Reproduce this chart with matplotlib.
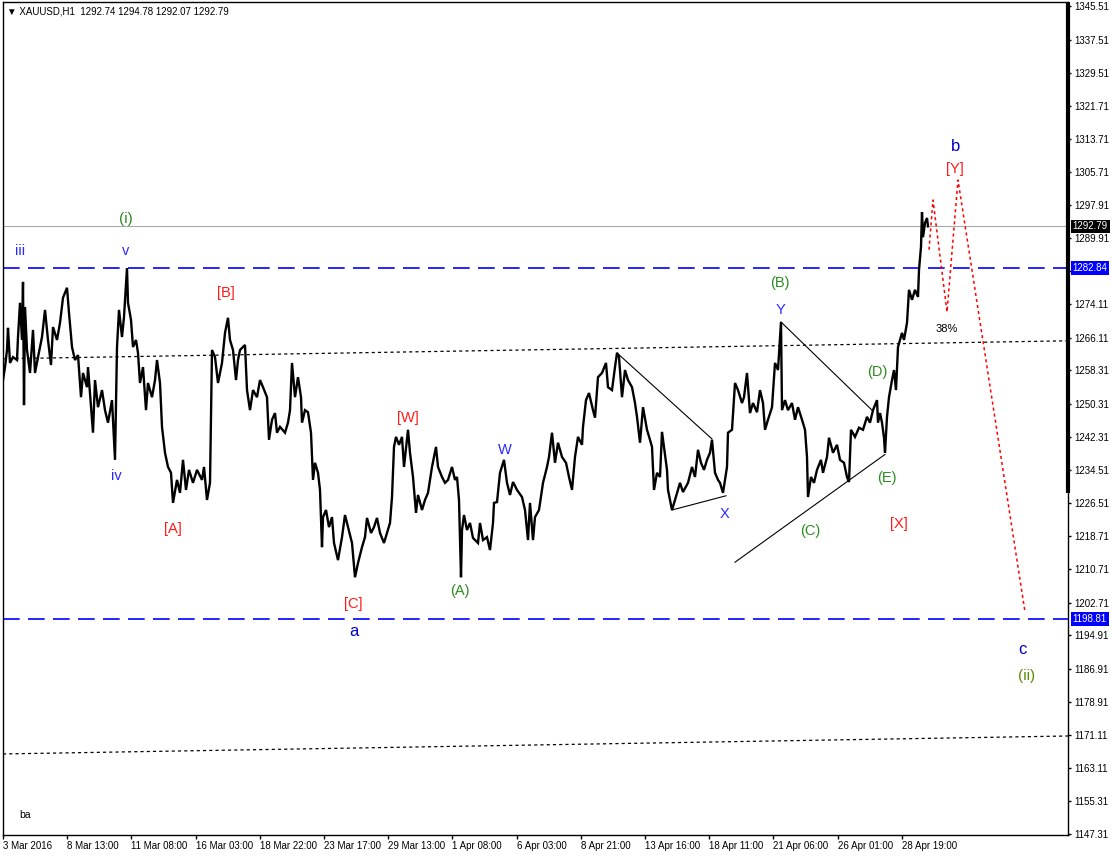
import matplotlib
matplotlib.use('Agg')
import matplotlib.pyplot as plt
from matplotlib.transforms import blended_transform_factory

plt.rcParams['font.family'] = ['Liberation Sans', 'DejaVu Sans']

# ---------------- data ----------------
bars = [0, 2, 4, 5, 7, 10, 14, 15, 17, 19, 20, 21, 22, 24, 27, 30, 32, 35, 39, 42, 45, 48, 50, 54, 57, 60, 64, 66, 69, 72, 75, 78, 80, 84, 85, 88, 90, 92, 95, 99, 102, 105, 109, 110, 112, 114, 116, 119, 121, 124, 125, 128, 130, 133, 135, 137, 140, 143, 145, 149, 152, 154, 157, 159, 162, 165, 168, 170, 174, 177, 180, 183, 186, 190, 194, 199, 201, 204, 207, 209, 212, 215, 219, 222, 225, 227, 230, 233, 235,
        237, 242, 244, 247, 250, 254, 257, 260, 264, 266, 269, 272, 274, 277, 282, 285, 287, 289, 292, 295, 298, 299, 302, 305, 308, 310, 312, 315, 317, 319, 320, 323, 326, 329, 331, 335, 339, 342, 345, 349, 352, 355, 359, 362, 364, 368, 371, 374, 377, 381, 384, 387, 389, 391, 393, 396, 399, 401, 405, 407, 410, 413, 415, 419, 422, 425, 429, 433, 435, 439, 442, 445, 449, 452, 454, 456, 458, 459, 461, 464, 467, 470, 475,
        477, 480, 484, 487, 490, 491, 494, 497, 501, 504, 507, 510, 514, 519, 522, 525, 527, 530, 532, 536, 540, 544, 546, 549, 552, 555, 559, 563, 566, 569, 572, 575, 579, 580, 583, 586, 590, 592, 595, 599, 603, 605, 609, 612, 614, 616, 619, 622, 625, 629, 632, 634, 637, 640, 644, 647, 649, 651, 654, 657, 659, 661, 664, 665, 669, 672, 677, 680, 685, 689, 692, 695, 698, 701, 704, 707, 709, 712, 715,
        717, 720, 724, 725, 729, 732, 735, 739, 741, 744, 747, 750, 754, 757, 760, 762, 765, 769, 772, 775, 778, 779, 782, 785, 789, 792, 795, 799, 802, 804, 805, 808, 811, 814, 818, 820, 824, 826, 830, 834, 837, 841, 844, 846, 848, 852, 856, 860, 864, 867, 870, 874, 875, 877, 879, 881, 882, 884, 886, 889, 891, 893, 895, 899, 901, 904, 906, 909, 912, 915, 916, 918, 919, 920, 922, 924, 925]
prices = [1256.0, 1259.1, 1263.2, 1268.5, 1260.1, 1261.5, 1260.8, 1266.3, 1274.5, 1265.6, 1279.5, 1250.0, 1273.5, 1263.2, 1257.7, 1268.0, 1257.7, 1261.5, 1266.3, 1272.8, 1265.6, 1259.6, 1268.7, 1265.6, 1269.7, 1275.7, 1278.1, 1272.1, 1263.9, 1260.8, 1262.0, 1251.9, 1257.7, 1254.3, 1259.1, 1249.5, 1243.4, 1256.0, 1249.5, 1253.6, 1248.8, 1245.8, 1251.2, 1246.5, 1236.9, 1263.9, 1272.8, 1266.3, 1271.1, 1282.8, 1274.5, 1270.4, 1263.9, 1265.6, 1262.5, 1255.3, 1259.1, 1248.8, 1255.3, 1251.9, 1256.0, 1260.8, 1255.3, 1244.8, 1238.6, 1235.2, 1233.8, 1226.6, 1232.1, 1229.0, 1236.9, 1229.7, 1234.5, 1231.4, 1234.5, 1232.1, 1235.2, 1227.3, 1231.4, 1263.2, 1261.5, 1255.3, 1260.1, 1267.3, 1270.9, 1265.6, 1263.2, 1256.0, 1260.8,
          1263.2, 1264.4, 1253.6, 1248.8, 1253.6, 1251.9, 1256.0, 1254.3, 1251.9, 1241.7, 1246.5, 1248.1, 1243.4, 1244.8, 1243.4, 1245.8, 1248.8, 1260.1, 1251.9, 1256.7, 1251.9, 1245.8, 1248.8, 1248.3, 1243.4, 1232.1, 1236.2, 1233.8, 1229.7, 1216.0, 1223.2, 1224.9, 1220.8, 1223.2, 1217.0, 1212.9, 1218.4, 1223.7, 1220.8, 1217.0, 1208.8, 1212.2, 1216.0, 1218.4, 1223.0, 1219.4, 1220.8, 1223.0, 1219.4, 1217.0, 1219.4, 1221.8, 1228.0, 1240.0, 1242.4, 1240.5, 1242.4, 1235.2, 1244.1, 1238.6, 1232.8, 1224.2, 1228.5, 1224.9, 1227.3, 1229.0, 1235.2, 1240.0, 1235.2, 1232.8, 1231.4, 1232.1, 1235.2, 1232.1, 1232.8, 1227.3, 1208.8, 1220.1, 1223.7, 1220.1, 1221.8, 1218.2, 1217.0,
          1221.8, 1217.7, 1218.4, 1215.3, 1221.8, 1226.6, 1226.8, 1233.8, 1236.9, 1231.4, 1228.5, 1231.6, 1229.7, 1228.0, 1224.9, 1217.7, 1226.6, 1217.7, 1223.2, 1224.9, 1231.4, 1235.2, 1237.6, 1243.4, 1236.2, 1241.0, 1237.6, 1236.2, 1232.8, 1229.7, 1237.6, 1242.4, 1240.5, 1244.8, 1251.2, 1252.9, 1248.8, 1247.0, 1256.7, 1257.7, 1260.1, 1254.3, 1253.6, 1259.1, 1262.5, 1261.5, 1251.9, 1258.4, 1256.0, 1254.3, 1250.5, 1247.2, 1241.0, 1249.5, 1244.1, 1241.7, 1240.0, 1229.7, 1233.8, 1232.8, 1243.6, 1240.0, 1234.5, 1229.7, 1224.9, 1227.3, 1231.4, 1229.2, 1231.4, 1235.2, 1232.8, 1239.3, 1236.2, 1234.5, 1236.9, 1238.6, 1241.7, 1233.8, 1232.1,
          1231.4, 1229.0, 1235.2, 1243.4, 1244.1, 1255.3, 1253.6, 1250.5, 1251.9, 1257.7, 1248.1, 1250.5, 1248.3, 1253.6, 1250.5, 1244.1, 1246.5, 1249.5, 1260.1, 1258.4, 1269.9, 1248.8, 1251.2, 1248.8, 1250.5, 1246.5, 1249.5, 1246.5, 1244.1, 1237.6, 1228.0, 1232.8, 1231.4, 1234.5, 1236.9, 1233.8, 1237.6, 1242.2, 1238.6, 1240.5, 1236.9, 1236.2, 1232.8, 1231.6, 1244.1, 1242.4, 1244.6, 1244.1, 1247.2, 1245.8, 1248.8, 1251.2, 1245.8, 1248.1, 1245.8, 1242.2, 1238.6, 1247.2, 1251.9, 1256.0, 1258.4, 1253.6, 1263.9, 1267.3, 1265.6, 1269.7, 1277.6, 1275.2, 1277.6, 1275.9, 1282.4, 1287.9, 1296.2, 1290.2, 1293.6, 1294.8, 1292.79]

# tick labels (time axis) and their bar positions
time_ticks = [0, 64, 128, 193, 257, 321, 385, 449, 514, 578, 642, 706, 770, 835, 899]
time_labels = ["3 Mar 2016", "8 Mar 13:00", "11 Mar 08:00", "16 Mar 03:00", "18 Mar 22:00",
               "23 Mar 17:00", "29 Mar 13:00", "1 Apr 08:00", "6 Apr 03:00", "8 Apr 21:00",
               "13 Apr 16:00", "18 Apr 11:00", "21 Apr 06:00", "26 Apr 01:00", "28 Apr 19:00"]
price_ticks = [1345.51, 1337.51, 1329.51, 1321.71, 1313.71, 1305.71, 1297.91, 1289.91, 1282.11,
               1274.11, 1266.11, 1258.31, 1250.31, 1242.31, 1234.51, 1226.51, 1218.71, 1210.71,
               1202.71, 1194.91, 1186.91, 1178.91, 1171.11, 1163.11, 1155.31, 1147.31]

bid_price = 1292.79
levels = [1282.84, 1198.81]

# drawn objects
upper_dot_bars = [0, 1065]
upper_dot_prices = [1261.1, 1265.4]
lower_dot_bars = [0, 1065]
lower_dot_prices = [1166.5, 1170.8]
tri_lines = [
    ([614, 709], [1262.5, 1241.9]),
    ([669, 723], [1224.9, 1228.3]),
    ([778, 869], [1269.9, 1248.8]),
    ([732, 882], [1212.4, 1238.2]),
]
proj_bars = [926, 930, 944, 955, 1022]
proj_prices = [1287.2, 1299.1, 1272.3, 1303.9, 1200.5]

# wave labels: text, bar, price, color, size
BLUE = '#2a2aff'
DBLUE = '#0000c8'
RED = '#ff1a1a'
GREEN = '#2a8c1e'
labels = [
    ("iii", 17, 1286.9, BLUE, 10.5),
    ("v", 123, 1286.9, BLUE, 10.5),
    ("(i)", 123, 1294.6, GREEN, 11),
    ("iv", 113, 1233.0, BLUE, 10.5),
    ("[B]", 223, 1276.9, RED, 10.5),
    ("[A]", 170, 1220.4, RED, 10.5),
    ("[W]", 405, 1246.9, RED, 10.5),
    ("[C]", 350, 1202.4, RED, 10.5),
    ("a", 351, 1195.7, DBLUE, 12),
    ("(A)", 457, 1205.5, GREEN, 10.5),
    ("W", 502, 1239.3, BLUE, 10.5),
    ("X", 722, 1223.9, BLUE, 10.5),
    ("(B)", 777, 1279.2, GREEN, 10.5),
    ("Y", 777, 1272.8, BLUE, 10.5),
    ("(C)", 807, 1219.9, GREEN, 10.5),
    ("(D)", 874, 1257.9, GREEN, 10.5),
    ("(E)", 884, 1232.6, GREEN, 10.5),
    ("[X]", 896, 1221.6, RED, 10.5),
    ("b", 953, 1312.0, DBLUE, 12),
    ("[Y]", 952, 1306.5, RED, 10.5),
    ("38%", 944, 1268.2, 'black', 8),
    ("c", 1019, 1191.6, DBLUE, 12),
    ("(ii)", 1024, 1185.2, '#5a8c00', 11),
    ("ba", 22, 1151.9, 'black', 7.5),
]

# ---------------- figure ----------------
W, H = 1112, 856
fig = plt.figure(figsize=(W / 100, H / 100), dpi=100)
fig.patch.set_facecolor('white')
ax = fig.add_axes([3 / W, (H - 835) / H, (1068 - 3) / W, (835 - 2) / H])
ax.set_xlim(0, 1065)
ax.set_ylim(1147.1, 1346.5)

for s in ax.spines.values():
    s.set_color('black')
    s.set_linewidth(1)

# reference lines
ax.axhline(bid_price, color='#a8a8a8', lw=0.8, zorder=1)
for lv in levels:
    ax.axhline(lv, color='#0000ff', lw=1.2, linestyle=(0, (10, 5)), zorder=2)
ax.plot(upper_dot_bars, upper_dot_prices, color='black', lw=0.9, linestyle=(0, (2.5, 2.5)), zorder=2)
ax.plot(lower_dot_bars, lower_dot_prices, color='black', lw=0.9, linestyle=(0, (2.5, 2.5)), zorder=2)
for bx, by in tri_lines:
    ax.plot(bx, by, color='black', lw=0.8, zorder=3)

# price path
ax.plot(bars, prices, color='black', lw=1.7, solid_joinstyle='miter', zorder=4)

# projection
ax.plot(proj_bars, proj_prices, color='red', lw=1.1, linestyle=(0, (2, 2)), zorder=4)

# labels
for t, bx, py, c, fs in labels:
    ax.text(bx, py, t, color=c, fontsize=fs, ha='center', va='center', zorder=6)

# title
ax.text(0.0038, 0.988, "\u25BC XAUUSD,H1  1292.74 1294.78 1292.07 1292.79",
        transform=ax.transAxes, fontsize=7, ha='left', va='center', color='black',
        family=['Liberation Sans', 'DejaVu Sans'])

# axes ticks
ax.set_xticks(time_ticks)
ax.set_xticklabels(time_labels, ha='left')
ax.tick_params(axis='x', direction='out', length=3, width=1, pad=1.5, labelsize=7)
ax.yaxis.tick_right()
ax.set_yticks(price_ticks)
ax.set_yticklabels([f"{v:.2f}" for v in price_ticks])
ax.tick_params(axis='y', direction='out', length=2.5, width=1, pad=2, labelsize=7)

trans = blended_transform_factory(ax.transAxes, ax.transData)
# thick scale marker on the right edge
ax.plot([1.0, 1.0], [1229.0, 1346.5], transform=trans, color='black', lw=3,
        solid_capstyle='butt', clip_on=False, zorder=7)

# price boxes
for val, fc in [(bid_price, 'black'), (levels[0], '#0000ff'), (levels[1], '#0000ff')]:
    ax.text(1.0045, val, f"{val:.2f}", transform=trans, ha='left', va='center', fontsize=7,
            color='white', clip_on=False, zorder=10,
            bbox=dict(boxstyle='square,pad=0.18', fc=fc, ec='none'))

fig.savefig('out.png', dpi=100, facecolor='white')
